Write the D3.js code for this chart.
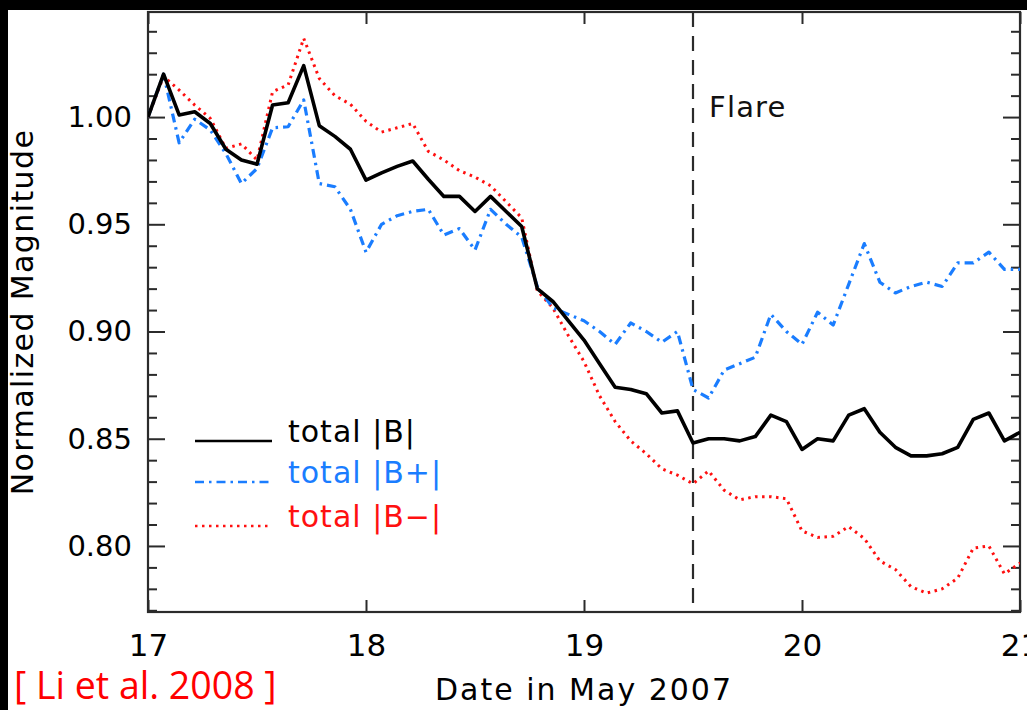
<!DOCTYPE html>
<html>
<head>
<meta charset="utf-8">
<script src="https://cdn.jsdelivr.net/npm/d3@7"></script>
<style>
	html, body { margin: 0; padding: 0; background: #fff; }
	svg { display: block; }
	text { font-family: "DejaVu Sans", sans-serif; }
</style>
</head>
<body>
<svg id="chart"></svg>
<script>
	// cadence of the magnetograms, days
	var fStartDay = 17;
	var fStep = 1 / 14;

	var aTotalB = [1.000, 1.020, 1.001, 1.0025, 0.997, 0.985, 0.980, 0.978, 1.0056, 1.0067,
		1.024, 0.996, 0.991, 0.985, 0.9706, 0.974, 0.977, 0.9795, 0.971, 0.963,
		0.963, 0.956, 0.963, 0.956, 0.949, 0.920, 0.914, 0.905, 0.896, 0.885,
		0.874, 0.873, 0.871, 0.862, 0.863, 0.848, 0.850, 0.850, 0.849, 0.851,
		0.861, 0.858, 0.845, 0.850, 0.849, 0.861, 0.864, 0.853, 0.846, 0.842,
		0.842, 0.843, 0.846, 0.859, 0.862, 0.849, 0.853];

	var aTotalBPlus = [1.000, 1.020, 0.988, 0.999, 0.994, 0.983, 0.969, 0.976, 0.995, 0.9955,
		1.008, 0.969, 0.9675, 0.957, 0.937, 0.950, 0.954, 0.956, 0.957, 0.945,
		0.948, 0.938, 0.957, 0.950, 0.944, 0.921, 0.911, 0.908, 0.905, 0.900,
		0.894, 0.904, 0.900, 0.895, 0.900, 0.873, 0.869, 0.882, 0.885, 0.888,
		0.908, 0.900, 0.894, 0.909, 0.903, 0.922, 0.941, 0.923, 0.918, 0.921,
		0.923, 0.921, 0.932, 0.932, 0.937, 0.929, 0.929];

	var aTotalBMinus = [1.000, 1.019, 1.0126, 1.0056, 0.9994, 0.9854, 0.9875, 0.980, 1.0118, 1.015,
		1.0367, 1.018, 1.010, 1.006, 0.998, 0.993, 0.995, 0.997, 0.984, 0.980,
		0.975, 0.972, 0.968, 0.9605, 0.953, 0.919, 0.911, 0.898, 0.886, 0.870,
		0.858, 0.849, 0.843, 0.836, 0.833, 0.829, 0.835, 0.826, 0.8215, 0.823,
		0.823, 0.822, 0.807, 0.804, 0.8045, 0.809, 0.8035, 0.793, 0.789, 0.781,
		0.778, 0.780, 0.785, 0.799, 0.800, 0.787, 0.792];

	var fFlareDay = 19.5;
	var aXTicks = [17, 18, 19, 20, 21];
	var aYTicks = [0.80, 0.85, 0.90, 0.95, 1.00];
	var aLegend = ["total |B|", "total |B+|", "total |B\u2212|"];

	var iWidth = 1027, iHeight = 710;
	var oBox = { left: 148, right: 1020, top: 12, bottom: 612 };

	var oSvg = d3.select("#chart")
		.attr("width", iWidth)
		.attr("height", iHeight);

	oSvg.append("rect").attr("width", iWidth).attr("height", iHeight).attr("fill", "#fff");
	// black strips along the top and left edge of the slide
	oSvg.append("rect").attr("x", 0).attr("y", 0).attr("width", iWidth).attr("height", 10).attr("fill", "#000");
	oSvg.append("rect").attr("x", 0).attr("y", 0).attr("width", 8).attr("height", iHeight).attr("fill", "#000");

	var oScaleX = d3.scaleLinear()
		.domain([17, 21])
		.range([oBox.left, oBox.right]);

	var oScaleY = d3.scaleLinear()
		.domain([0.7692, 1.049])
		.range([oBox.bottom, oBox.top]);

	var sAxisColor = "#2b2b2b";
	var aMinor = d3.range(77, 105).map(function (i) { return i / 100; })
		.filter(function (v) { return Math.round(v * 100) % 5 !== 0; });

	function styleAxis(oG) {
		oG.select(".domain").remove();
		oG.selectAll(".tick line").attr("stroke", sAxisColor).attr("stroke-width", 2);
	}

	// left axis, ticks inside
	oSvg.append("g")
		.attr("transform", "translate(" + oBox.left + ",0)")
		.call(d3.axisLeft(oScaleY).tickValues(aYTicks).tickSize(-17).tickPadding(16).tickFormat(d3.format(".2f")))
		.call(styleAxis)
		.selectAll("text")
		.attr("font-size", 29)
		.attr("fill", "#000")
		.attr("font-family", "DejaVu Sans");

	oSvg.append("g")
		.attr("transform", "translate(" + oBox.left + ",0)")
		.call(d3.axisLeft(oScaleY).tickValues(aMinor).tickSize(-9).tickFormat(""))
		.call(styleAxis);

	// right axis mirror
	oSvg.append("g")
		.attr("transform", "translate(" + oBox.right + ",0)")
		.call(d3.axisRight(oScaleY).tickValues(aYTicks).tickSize(-17).tickFormat(""))
		.call(styleAxis);

	oSvg.append("g")
		.attr("transform", "translate(" + oBox.right + ",0)")
		.call(d3.axisRight(oScaleY).tickValues(aMinor).tickSize(-9).tickFormat(""))
		.call(styleAxis);

	// bottom axis
	oSvg.append("g")
		.attr("transform", "translate(0," + oBox.bottom + ")")
		.call(d3.axisBottom(oScaleX).tickValues(aXTicks).tickSize(-12).tickPadding(22).tickFormat(d3.format("d")))
		.call(styleAxis)
		.selectAll("text")
		.attr("font-size", 31)
		.attr("fill", "#000")
		.attr("font-family", "DejaVu Sans");

	oSvg.append("g")
		.attr("transform", "translate(0," + oBox.top + ")")
		.call(d3.axisTop(oScaleX).tickValues(aXTicks).tickSize(-12).tickFormat(""))
		.call(styleAxis);

	// frame
	oSvg.append("rect")
		.attr("x", oBox.left)
		.attr("y", oBox.top)
		.attr("width", oBox.right - oBox.left)
		.attr("height", oBox.bottom - oBox.top)
		.attr("fill", "none")
		.attr("stroke", sAxisColor)
		.attr("stroke-width", 2.2);

	oSvg.append("clipPath").attr("id", "plotClip")
		.append("rect")
		.attr("x", oBox.left).attr("y", oBox.top)
		.attr("width", oBox.right - oBox.left).attr("height", oBox.bottom - oBox.top);

	// flare marker
	oSvg.append("line")
		.attr("x1", oScaleX(fFlareDay)).attr("x2", oScaleX(fFlareDay))
		.attr("y1", oBox.top).attr("y2", oBox.bottom)
		.attr("stroke", "#2b2b2b")
		.attr("stroke-width", 2.2)
		.attr("stroke-dasharray", "15,9");

	oSvg.append("text")
		.attr("x", oScaleX(fFlareDay) + 16)
		.attr("y", 117)
		.attr("font-size", 29)
		.attr("letter-spacing", 1.2)
		.attr("fill", "#111")
		.text("Flare");

	var aSeries = [
		{ values: aTotalBMinus, color: "#ff1010", width: 3, dash: "2.5,4.5" },
		{ values: aTotalBPlus, color: "#1a7dff", width: 3.2, dash: "9,5,2.5,5" },
		{ values: aTotalB, color: "#000", width: 3.6, dash: null }
	];

	var oLine = d3.line()
		.x(function (d, i) { return oScaleX(fStartDay + i * fStep); })
		.y(function (d) { return oScaleY(d); });

	var oPlot = oSvg.append("g").attr("clip-path", "url(#plotClip)");

	aSeries.forEach(function (oSeries) {
		oPlot.append("path")
			.datum(oSeries.values)
			.attr("d", oLine)
			.attr("fill", "none")
			.attr("stroke", oSeries.color)
			.attr("stroke-width", oSeries.width)
			.attr("stroke-linejoin", "round")
			.attr("stroke-dasharray", oSeries.dash);
	});

	// legend (black, blue, red)
	var aLegendSeries = [aSeries[2], aSeries[1], aSeries[0]];
	var aLegendY = [441, 482, 526];
	aLegendSeries.forEach(function (oSeries, i) {
		oSvg.append("line")
			.attr("x1", 195).attr("x2", 272)
			.attr("y1", aLegendY[i]).attr("y2", aLegendY[i])
			.attr("stroke", oSeries.color)
			.attr("stroke-width", 2.4)
			.attr("stroke-dasharray", oSeries.dash);
		oSvg.append("text")
			.attr("x", 288)
			.attr("y", aLegendY[i] + 1)
			.attr("font-size", 30)
			.attr("letter-spacing", 1)
			.attr("fill", oSeries.color)
			.text(aLegend[i]);
	});

	// axis titles
	oSvg.append("text")
		.attr("x", (oBox.left + oBox.right) / 2)
		.attr("y", 700)
		.attr("text-anchor", "middle")
		.attr("font-size", 30)
		.attr("letter-spacing", 2)
		.attr("fill", "#000")
		.text("Date in May 2007");

	oSvg.append("text")
		.attr("transform", "translate(33," + (oBox.top + oBox.bottom) / 2 + ") rotate(-90)")
		.attr("text-anchor", "middle")
		.attr("font-size", 30)
		.attr("letter-spacing", 1.4)
		.attr("fill", "#000")
		.text("Normalized Magnitude");

	// citation
	oSvg.append("text")
		.attr("x", 14)
		.attr("y", 699)
		.attr("font-size", 37.5)
		.attr("fill", "#ff0000")
		.style("font-family", "'Open Sans', sans-serif")
		.text("[ Li et al. 2008 ]");
</script>
</body>
</html>
